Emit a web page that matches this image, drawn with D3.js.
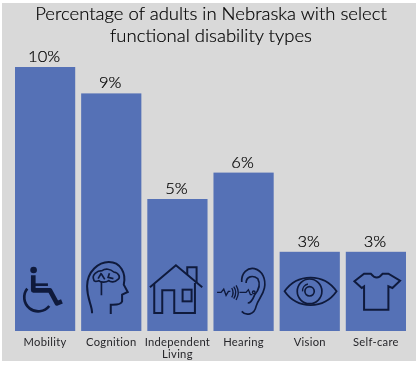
<!DOCTYPE html>
<html>
<head>
<meta charset="utf-8">
<script src="https://cdn.jsdelivr.net/npm/d3@7"></script>
<style>
  html, body { margin: 0; padding: 0; background: #fff; }
  svg { display: block; filter: blur(0.3px); }
  text { font-family: Lato, "Open Sans", sans-serif; fill: #26262a; }
  .title, .value { fill: #000; stroke: #000; stroke-width: 0.2px; }
</style>
</head>
<body>
<svg id="chart"></svg>
<script>
const categories = ["Mobility", "Cognition", "Independent Living", "Hearing", "Vision", "Self-care"];
const values = [10, 9, 5, 6, 3, 3];
const titleLines = ["Percentage of adults in Nebraska with select", "functional disability types"];
const iconNames = ["wheelchair", "head", "house", "ear", "eye", "shirt"];

const width = 420, height = 366;
const barBottom = 331, barTop = 67;
const barColor = "#5571b6", iconColor = "#0f1a3c", panelColor = "#d9d9d9";

const svg = d3.select("#chart").attr("width", width).attr("height", height);

svg.append("rect")
  .attr("x", 2).attr("y", 3)
  .attr("width", 414).attr("height", 358)
  .attr("fill", panelColor);

svg.selectAll(".title")
  .data(titleLines)
  .enter()
  .append("text")
  .attr("class", "title")
  .attr("x", 211)
  .attr("y", (d, i) => 20 + i * 21.5)
  .attr("text-anchor", "middle")
  .attr("font-size", 18.5)
  .attr("font-weight", 300)
  .text(d => d);

const x = d3.scaleBand().domain(categories).range([15, 406]).paddingInner(0.09);
const y = d3.scaleLinear().domain([0, 10]).range([barBottom, barTop]);

const group = svg.selectAll(".bar")
  .data(categories.map((c, i) => ({ name: c, value: values[i], icon: iconNames[i] })))
  .enter()
  .append("g")
  .attr("class", "bar");

group.append("rect")
  .attr("x", d => x(d.name))
  .attr("y", d => y(d.value))
  .attr("width", x.bandwidth())
  .attr("height", d => barBottom - y(d.value))
  .attr("fill", barColor);

group.append("text")
  .attr("class", "value")
  .attr("x", d => x(d.name) + x.bandwidth() / 2 - 1)
  .attr("y", d => y(d.value) - 5)
  .attr("text-anchor", "middle")
  .attr("font-size", 16.5)
  .attr("font-weight", 300)
  .text(d => d.value + "%");

group.append("text")
  .attr("x", d => x(d.name) + x.bandwidth() / 2)
  .attr("text-anchor", "middle")
  .attr("font-size", 11.2)
  .attr("letter-spacing", 0.3)
  .selectAll("tspan")
  .data(d => d.name === "Independent Living" ? ["Independent", "Living"] : [d.name])
  .enter()
  .append("tspan")
  .attr("x", function () { return this.parentNode.getAttribute("x"); })
  .attr("y", (d, i) => 346 + i * 12)
  .text(d => d);

// icons are authored in a 195 unit box, scaled down to 65px
const icons = {
  wheelchair(g) {
    g.append("circle").attr("cx", 63).attr("cy", 36).attr("r", 10).attr("fill", iconColor).attr("stroke", "none");
    g.append("path").attr("d", "M62,52V97H112L133,136L148,130").attr("stroke-width", 14).attr("stroke-linejoin", "round");
    g.append("path").attr("d", "M66,80H106").attr("stroke-width", 8);
    g.append("path").attr("d", "M44,92A39,39 0 1 0 110,144").attr("stroke-width", 8);
  },
  head(g) {
    g.append("path").attr("d", "M40,166C40,140 25,125 25,85C25,40 60,12 90,12C125,12 143,45 135,80L147,102L130,110V130Q128,140 102,140H96V168");
    g.append("path").attr("d", "M45,65C38,50 55,38 70,38C80,30 95,33 105,42C122,45 127,60 115,66C110,73 95,73 90,68C80,75 65,73 60,68C50,72 45,70 45,65Z").attr("stroke-width", 5);
    g.append("path").attr("d", "M68,70V112M68,45L58,62M68,48L78,64M92,46L88,58L104,62").attr("stroke-width", 5);
  },
  house(g) {
    g.append("path").attr("d", "M15,88L93,22L172,88");
    g.append("path").attr("d", "M127,50V28H155V75");
    g.append("path").attr("d", "M28,78V165H52V97H88V165H150V75");
    g.append("rect").attr("x", 113).attr("y", 95).attr("width", 27).attr("height", 35);
  },
  ear(g) {
    g.append("path").attr("d", "M92,72C90,45 110,28 130,32C155,38 165,65 160,90C155,115 140,125 135,145C130,170 105,175 92,160").attr("stroke-width", 5);
    g.append("path").attr("d", "M105,75C105,55 125,50 140,62C150,80 140,100 130,112C125,125 120,135 110,135").attr("stroke-width", 5);
    g.append("path").attr("d", "M18,103H30L38,93L45,112L52,100H58").attr("stroke-width", 4);
    g.append("path").attr("d", "M62,90Q70,103 62,118M68,86Q80,103 68,122M75,82Q88,103 75,126").attr("stroke-width", 4);
    g.append("path").attr("d", "M85,103H105L112,95L118,110H124").attr("stroke-width", 4);
    g.append("circle").attr("cx", 128).attr("cy", 103).attr("r", 4).attr("stroke-width", 4);
  },
  eye(g) {
    g.append("path").attr("d", "M22,100C60,45 140,45 178,100C140,155 60,155 22,100Z").attr("stroke-width", 5.5);
    g.append("circle").attr("cx", 97).attr("cy", 100).attr("r", 37).attr("stroke-width", 5);
    g.append("circle").attr("cx", 97).attr("cy", 100).attr("r", 14).attr("stroke-width", 5);
    g.append("path").attr("d", "M76,100A21,21 0 0 1 92,78").attr("stroke-width", 4);
  },
  shirt(g) {
    g.append("path").attr("d", "M62,155H135V85L147,90L170,68L135,47H118Q100,70 82,47H62L33,70L55,90L62,85Z");
  }
};

group.append("g")
  .attr("transform", d => `translate(${x(d.name) + x.bandwidth() / 2 - 32.5},258) scale(${1 / 3})`)
  .attr("fill", "none")
  .attr("stroke", iconColor)
  .attr("stroke-width", 6)
  .each(function (d) { icons[d.icon](d3.select(this)); });
</script>
</body>
</html>
